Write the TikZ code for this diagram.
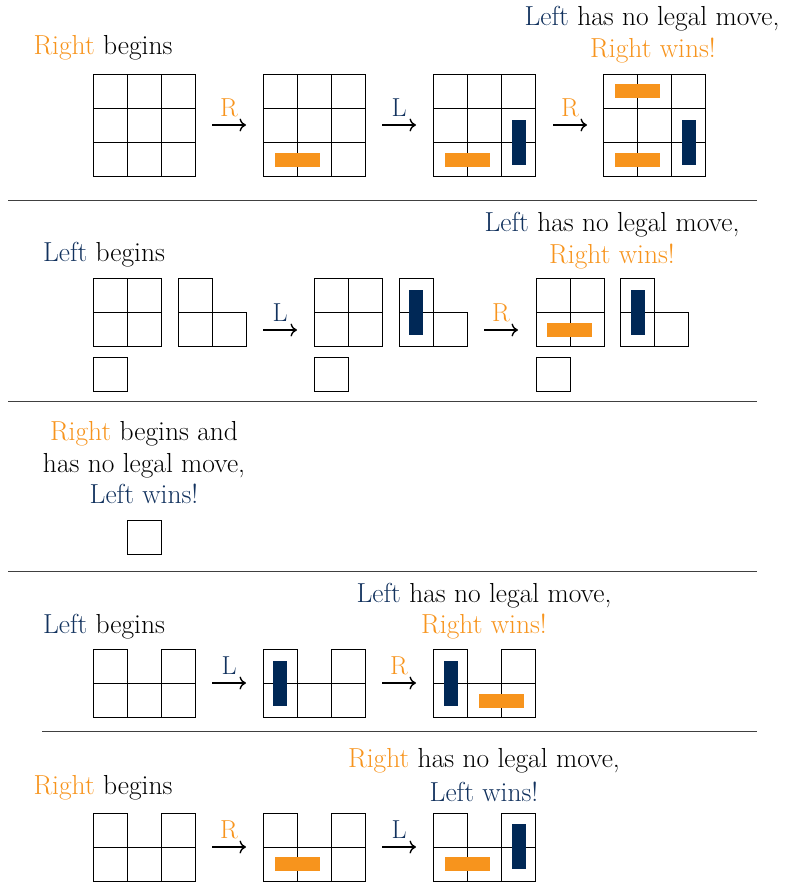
\documentclass[tikz,border=0pt]{standalone}
\usetikzlibrary{arrows.meta}
\definecolor{rorange}{RGB}{247,148,29}
\definecolor{lnavy}{RGB}{0,40,86}
\definecolor{ltext}{RGB}{18,50,94}
\newcommand\RR{\textcolor{rorange}{Right}}
\newcommand\LL{\textcolor{ltext}{Left}}
\tikzset{
  cellbox/.style={draw=black, line width=1pt},
  sepline/.style={draw=black!75, line width=0.9pt},
  txt/.style={font=\fontsize{27.5}{32}\selectfont, anchor=base, inner sep=0pt},
  mv/.style={-{Computer Modern Rightarrow[length=6.5pt,width=13pt]}, line width=1.4pt},
  mvlab/.style={font=\fontsize{26}{30}\selectfont, anchor=base, inner sep=0pt},
  rbar/.style={fill=rorange},
  lbar/.style={fill=lnavy}
}
\newcommand\cellat[2]{\draw[cellbox] (#1,#2) rectangle ++(34,34);}
\newcommand\gridthree[2]{\foreach \i in {0,1,2}{\foreach \j in {0,1,2}{\cellat{#1+34*\i}{#2+34*\j}}}}
\newcommand\gridtwo[2]{\foreach \i in {0,1}{\foreach \j in {0,1}{\cellat{#1+34*\i}{#2+34*\j}}}}
\newcommand\lshape[2]{\cellat{#1}{#2}\cellat{#1}{#2+34}\cellat{#1+34}{#2+34}}
\newcommand\ushape[2]{\cellat{#1}{#2}\cellat{#1+68}{#2}\cellat{#1}{#2+34}\cellat{#1+34}{#2+34}\cellat{#1+68}{#2+34}}
\newcommand\move[5]{% name, x1, x2, y, label
  \coordinate (#1s) at (#2,#4);
  \coordinate (#1e) at (#3,#4);
  \draw[mv] (#1s) -- (#1e);
  \node[mvlab] (#1lab) at ({(#2+#3)/2},#4-9) {#5};
}
\begin{document}
\begin{tikzpicture}[x=1pt,y=-1pt]
\useasboundingbox (0,0) rectangle (787,883);

% ---------- Section 1 ----------
\node[txt] (t1a) at (103,55) {\RR{} begins};
\node[txt] (t1b) at (652,26) {\LL{} has no legal move,};
\node[txt, text=rorange] (t1c) at (653,58) {Right wins!};
\gridthree{93}{74}
\gridthree{263}{74}
\fill[rbar] (275,153) rectangle (320,167);
\gridthree{433}{74}
\fill[rbar] (445,153) rectangle (490,167);
\fill[lbar] (512,120) rectangle (526,165);
\gridthree{603}{74}
\fill[rbar] (615,84) rectangle (660,98);
\fill[rbar] (615,153) rectangle (660,167);
\fill[lbar] (682,120) rectangle (696,165);
\move{m1}{212}{246}{125}{\textcolor{rorange}{R}}
\move{m2}{382}{416}{125}{\textcolor{ltext}{L}}
\move{m3}{553}{587}{125}{\textcolor{rorange}{R}}
\draw[sepline] (8,200) -- (757,200);

% ---------- Section 2 ----------
\node[txt] (t2a) at (104,261) {\LL{} begins};
\node[txt] (t2b) at (612,231) {\LL{} has no legal move,};
\node[txt, text=rorange] (t2c) at (612,263) {Right wins!};
\gridtwo{93}{278}
\cellat{93}{357}
\lshape{178}{278}
\gridtwo{314}{278}
\cellat{314}{357}
\lshape{399}{278}
\fill[lbar] (409,290) rectangle (423,335);
\gridtwo{536}{278}
\cellat{536}{357}
\fill[rbar] (547,323) rectangle (592,337);
\lshape{620}{278}
\fill[lbar] (631,290) rectangle (645,335);
\move{m4}{263}{297}{330}{\textcolor{ltext}{L}}
\move{m5}{484}{518}{330}{\textcolor{rorange}{R}}
\draw[sepline] (8,401) -- (757,401);

% ---------- Section 3 ----------
\node[txt] (t3a) at (144,440) {\RR{} begins and};
\node[txt] (t3b) at (144,472) {has no legal move,};
\node[txt, text=ltext] (t3c) at (144,503) {Left wins!};
\cellat{127}{520}
\draw[sepline] (8,571) -- (757,571);

% ---------- Section 4 ----------
\node[txt] (t4a) at (104,633) {\LL{} begins};
\node[txt] (t4b) at (484,602) {\LL{} has no legal move,};
\node[txt, text=rorange] (t4c) at (484,633) {Right wins!};
\ushape{93}{649}
\ushape{263}{649}
\fill[lbar] (273,661) rectangle (287,706);
\ushape{433}{649}
\fill[lbar] (444,661) rectangle (458,706);
\fill[rbar] (479,694) rectangle (524,708);
\move{m6}{212}{246}{683}{\textcolor{ltext}{L}}
\move{m7}{382}{416}{683}{\textcolor{rorange}{R}}
\draw[sepline] (42,731) -- (757,731);

% ---------- Section 5 ----------
\node[txt] (t5a) at (103,794) {\RR{} begins};
\node[txt] (t5b) at (484,767) {\RR{} has no legal move,};
\node[txt, text=ltext] (t5c) at (484,801) {Left wins!};
\ushape{93}{813}
\ushape{263}{813}
\fill[rbar] (275,857) rectangle (320,871);
\ushape{433}{813}
\fill[rbar] (445,857) rectangle (490,871);
\fill[lbar] (512,824) rectangle (526,869);
\move{m8}{212}{246}{847}{\textcolor{rorange}{R}}
\move{m9}{382}{416}{847}{\textcolor{ltext}{L}}
\end{tikzpicture}
\end{document}
